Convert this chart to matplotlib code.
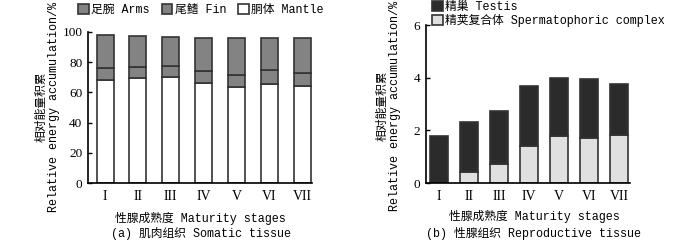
import matplotlib
matplotlib.use("Agg")
import matplotlib.pyplot as plt
import numpy as np

plt.rcParams['font.family'] = ['Liberation Mono', 'Noto Sans CJK SC']

stages = ['I', 'II', 'III', 'IV', 'V', 'VI', 'VII']

# (a) somatic tissue, % of energy
mantle = [68.5, 69.5, 70.0, 66.0, 63.5, 65.5, 64.0]
fin = [7.5, 7.5, 7.5, 8.0, 8.0, 9.5, 9.0]
arms = [22.0, 20.5, 19.5, 22.0, 24.5, 21.0, 23.0]

# (b) reproductive tissue, % of energy
sperm_complex = [0.0, 0.42, 0.73, 1.42, 1.77, 1.70, 1.83]
testis = [1.80, 1.90, 2.02, 2.28, 2.23, 2.25, 1.94]

edge = '#333333'
serif = 'Liberation Serif'

fig = plt.figure(figsize=(7, 2.4), dpi=100)
ax1 = fig.add_axes([88/700, 1-183/240, 224/700, 151/240])
ax2 = fig.add_axes([426/700, 1-183/240, 204/700, 158/240])

x = np.arange(len(stages))

b_m = ax1.bar(x, mantle, 0.52, color='white', edgecolor=edge, linewidth=1.2)
b_f = ax1.bar(x, fin, 0.52, bottom=mantle, color='#838383', edgecolor=edge, linewidth=1.2)
bot = np.array(mantle) + np.array(fin)
b_a = ax1.bar(x, arms, 0.52, bottom=bot, color='#838383', edgecolor=edge, linewidth=1.2)
ax1.set_ylim(0, 100)
ax1.set_xlim(-0.52, 6.3)
ax1.set_yticks([0, 20, 40, 60, 80, 100])

b_s = ax2.bar(x, sperm_complex, 0.6, color='#e0e0e0', edgecolor=edge, linewidth=1.2)
b_t = ax2.bar(x, testis, 0.6, bottom=sperm_complex, color='#2b2b2b', edgecolor=edge, linewidth=1.2)
ax2.set_ylim(0, 6)
ax2.set_xlim(-0.43, 6.37)
ax2.set_yticks([0, 2, 4, 6])

for ax in (ax1, ax2):
    for s in ('top', 'right'):
        ax.spines[s].set_visible(False)
    ax.spines['left'].set_linewidth(1.2)
    ax.spines['bottom'].set_linewidth(1.2)
    ax.set_xticks(x)
    ax.set_xticklabels(stages, family=serif, fontsize=10)
    ax.tick_params(axis='x', length=0, pad=5)
    ax.tick_params(axis='y', direction='in', length=3, width=1, labelsize=9.5, pad=4)
    for lab in ax.get_yticklabels():
        lab.set_family(serif)

ylab = '相对能量积累\nRelative energy accumulation/%'
fig.text(48/700, 1-107/240, ylab, rotation=90, ha='center', va='center',
         multialignment='center', fontsize=8.5, linespacing=1.05)
fig.text(389/700, 1-106/240, ylab, rotation=90, ha='center', va='center',
         multialignment='center', fontsize=8.5, linespacing=1.05)

fig.text(200/700, 1-218/240, '性腺成熟度 Maturity stages', ha='center', va='center', fontsize=8.5)
fig.text(201/700, 1-233/240, '(a) 肌肉组织 Somatic tissue', ha='center', va='center', fontsize=8.5)
fig.text(534/700, 1-216/240, '性腺成熟度 Maturity stages', ha='center', va='center', fontsize=8.5)
fig.text(534/700, 1-233/240, '(b) 性腺组织 Reproductive tissue', ha='center', va='center', fontsize=8.5)

fig.legend([b_a, b_f, b_m], ['足腕 Arms', '尾鳍 Fin', '胴体 Mantle'],
           loc='center', bbox_to_anchor=(201/700, 1-10/240), ncol=3, frameon=False,
           fontsize=8.5, handlelength=0.9, handleheight=0.9, handletextpad=0.2,
           columnspacing=1.0, borderpad=0, borderaxespad=0)
fig.legend([b_t, b_s], ['精巢 Testis', '精荚复合体 Spermatophoric complex'],
           loc='upper left', bbox_to_anchor=(432/700, 1-1/240), frameon=False,
           fontsize=8.5, handlelength=0.9, handleheight=0.9, handletextpad=0.2,
           labelspacing=0.1, borderpad=0, borderaxespad=0)

fig.savefig('out.png', dpi=100)
